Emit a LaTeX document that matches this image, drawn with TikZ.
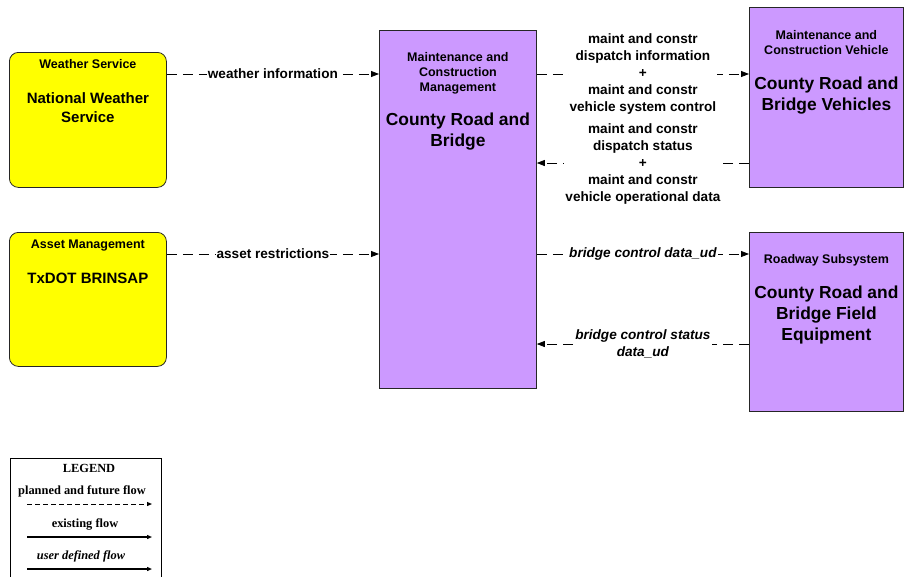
\documentclass[tikz,border=0pt]{standalone}
\usepackage{fontspec}
\setmainfont{Liberation Sans}
\newfontfamily\legendfont{Liberation Serif}
\usetikzlibrary{arrows.meta,positioning}
\definecolor{termy}{RGB}{255,255,0}
\definecolor{subsp}{RGB}{204,153,255}
\newcommand{\smallf}{\fontsize{12.5}{15}\selectfont\bfseries}
\newcommand{\midf}{\fontsize{15}{19}\selectfont\bfseries}
\newcommand{\bigf}{\fontsize{17.4}{21}\selectfont\bfseries}
\newcommand{\flowf}{\fontsize{13.6}{16.9}\selectfont\bfseries}
\newcommand{\lgf}{\legendfont\fontsize{12.4}{14}\selectfont\bfseries}
\tikzset{
  box/.style={draw=black!85,line width=0.8pt,anchor=north west,inner sep=0pt},
  term/.style={box,fill=termy,rounded corners=9pt,minimum width=157pt},
  subsys/.style={box,fill=subsp},
  title/.style={anchor=north,inner sep=0pt,align=center,font=\smallf},
  sysname/.style={anchor=north,inner sep=0pt,align=center},
  flow/.style={line width=0.8pt,dash pattern=on 10pt off 6pt,-{Triangle[length=8pt,width=6pt]}},
  flowlbl/.style={fill=white,inner sep=1pt,align=center,font=\flowf},
  lgtext/.style={inner sep=0pt,font=\lgf},
  lgflow/.style={line width=1.3pt,-{Triangle[length=5pt,width=4pt]}},
}
\begin{document}
\begin{tikzpicture}[x=1pt,y=-1pt]
  \useasboundingbox (0,0) rectangle (904,576);
  % flow rows
  \def\yA{74}\def\yB{163}\def\yC{254}\def\yD{344}
  % terminators on the left
  \node[term,minimum height=135pt] (ws) at (9,52) {};
  \node[term,minimum height=134pt] (am) at (9,232) {};
  % subsystems
  \node[subsys,minimum width=157pt,minimum height=358pt] (mcm) at (379,30) {};
  \node[subsys,minimum width=154pt,minimum height=180pt] (mcv) at (749,7) {};
  \node[subsys,minimum width=154pt,minimum height=179pt] (rs) at (749,232) {};
  % box texts
  \node[title,below=7.5pt of ws.north] (wsT) {Weather Service};
  \node[sysname,font=\midf,below=40.6pt of ws.north] (wsN) {National Weather\\Service};
  \node[title,below=7.5pt of am.north] (amT) {Asset Management};
  \node[sysname,font=\midf,below=40.6pt of am.north] (amN) {TxDOT BRINSAP};
  \node[title,below=22.5pt of mcm.north] (mcmT) {Maintenance and\\Construction\\Management};
  \node[sysname,font=\bigf,below=82.8pt of mcm.north] (mcmN) {County Road and\\Bridge};
  \node[title,below=23.5pt of mcv.north] (mcvT) {Maintenance and\\Construction Vehicle};
  \node[sysname,font=\bigf,below=70pt of mcv.north] (mcvN) {County Road and\\Bridge Vehicles};
  \node[title,below=22.5pt of rs.north] (rsT) {Roadway Subsystem};
  \node[sysname,font=\bigf,below=53.8pt of rs.north] (rsN) {County Road and\\Bridge Field\\Equipment};
  % flows
  \draw[flow] (ws.east |- 0,\yA) -- node[flowlbl] (fA) {weather information} (mcm.west |- 0,\yA);
  \draw[flow] (am.east |- 0,\yC) -- node[flowlbl] (fC) {asset restrictions} (mcm.west |- 0,\yC);
  \draw[flow] (mcm.east |- 0,\yA) -- node[flowlbl] (fD) {maint and constr\\dispatch information\\+\\maint and constr\\vehicle system control} (mcv.west |- 0,\yA);
  \draw[flow] (mcv.west |- 0,\yB) -- node[flowlbl,yshift=-1pt] (fS) {maint and constr\\dispatch status\\+\\maint and constr\\vehicle operational data} (mcm.east |- 0,\yB);
  \draw[flow] (mcm.east |- 0,\yC) -- node[flowlbl,font=\flowf\itshape] (fB) {bridge control data\_ud} (rs.west |- 0,\yC);
  \draw[flow] (rs.west |- 0,\yD) -- node[flowlbl,font=\flowf\itshape] (fBS) {bridge control status\\data\_ud} (mcm.east |- 0,\yD);
  % legend
  \node[draw,line width=1.2pt,anchor=north west,inner sep=0pt,minimum width=151pt,minimum height=126pt] (lg) at (10,458) {};
  \node[lgtext] (lgT) at (89,468) {LEGEND};
  \node[lgtext] (lgP) at (82,491) {planned and future flow};
  \node[lgtext] (lgE) at (85,524) {existing flow};
  \node[lgtext,font=\lgf\itshape] (lgU) at (81,556) {user defined flow};
  \coordinate (lgP1) at (27,504); \coordinate (lgP2) at (152,504);
  \coordinate (lgE1) at (27,537); \coordinate (lgE2) at (152,537);
  \coordinate (lgU1) at (27,569); \coordinate (lgU2) at (152,569);
  \draw[lgflow,line width=1pt,dash pattern=on 5pt off 3pt] (lgP1) -- (lgP2);
  \draw[lgflow] (lgE1) -- (lgE2);
  \draw[lgflow] (lgU1) -- (lgU2);
\end{tikzpicture}
\end{document}
